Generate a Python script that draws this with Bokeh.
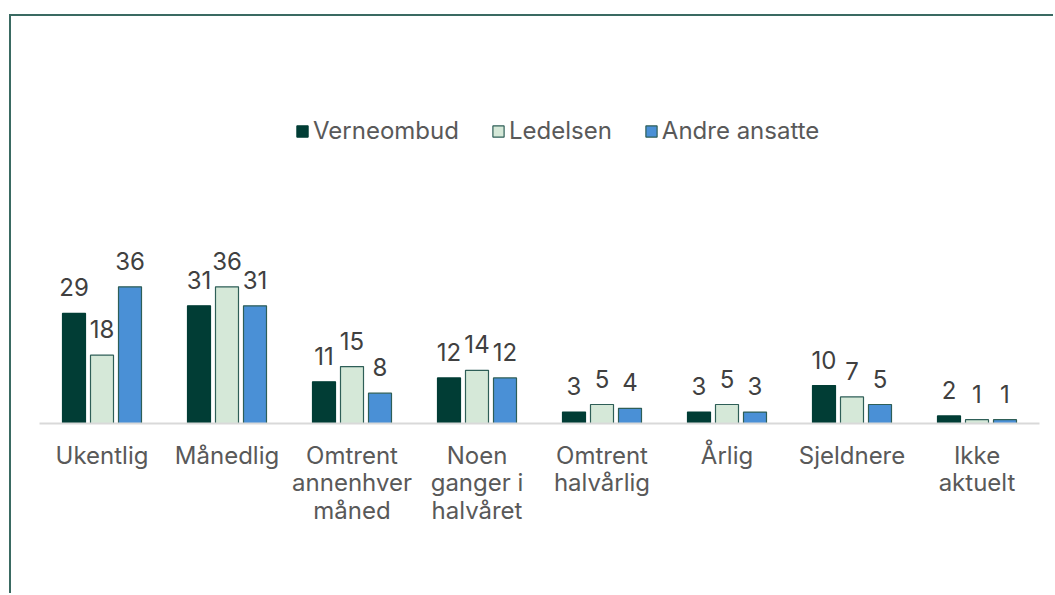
from bokeh.plotting import figure
from bokeh.models import FactorRange, Range1d, ColumnDataSource, Legend, LegendItem
from bokeh.transform import dodge
from bokeh.core.properties import value
from bokeh.embed import file_html
from bokeh.resources import INLINE

categories = ["Ukentlig", "Månedlig", "Omtrent\nannenhver\nmåned", "Noen\nganger i\nhalvåret",
              "Omtrent\nhalvårlig", "Årlig", "Sjeldnere", "Ikke\naktuelt"]
series_names = ["Verneombud", "Ledelsen", "Andre ansatte"]
verneombud = [29, 31, 11, 12, 3, 3, 10, 2]
ledelsen = [18, 36, 15, 14, 5, 5, 7, 1]
andre_ansatte = [36, 31, 8, 12, 4, 3, 5, 1]

fills = ["#013d35", "#d5e8d8", "#4a90d6"]
outlines = ["#013d35", "#2e5e57", "#2e5e57"]
offsets = [-0.224, 0.0, 0.224]
FONT = "Inter"
FS = "24px"

src = ColumnDataSource(dict(cat=categories, v0=verneombud, v1=ledelsen, v2=andre_ansatte,
                            t0=[str(v) for v in verneombud],
                            t1=[str(v) for v in ledelsen],
                            t2=[str(v) for v in andre_ansatte]))

p = figure(width=1044, height=579, output_backend="svg", toolbar_location=None,
           x_range=FactorRange(*categories, range_padding=0),
           y_range=Range1d(0, 107.2),
           min_border_left=28, min_border_right=16, min_border_top=0, min_border_bottom=172)
p.outline_line_color = None
p.background_fill_color = "white"
p.border_fill_color = "white"
p.grid.visible = False
p.yaxis.visible = False

renderers = []
for i, key in enumerate(["v0", "v1", "v2"]):
    r = p.vbar(x=dodge("cat", offsets[i], range=p.x_range), top=key, width=0.184, bottom=0,
               source=src, fill_color=fills[i], line_color=outlines[i], line_width=1.2)
    renderers.append(r)
    p.text(x=dodge("cat", offsets[i], range=p.x_range), y=key, text="t%d" % i, source=src,
           text_align="center", text_baseline="bottom", y_offset=-17,
           text_font=value(FONT), text_font_size=FS, text_color="#404040")

xa = p.xaxis[0]
xa.axis_line_color = "#d9d9d9"
xa.axis_line_width = 2
xa.major_tick_line_color = None
xa.minor_tick_line_color = None
xa.major_label_text_font = FONT
xa.major_label_text_font_size = FS
xa.major_label_text_color = "#595959"
xa.major_label_text_line_height = 0.96
xa.major_label_standoff = 11

legend = Legend(items=[LegendItem(label=series_names[i], renderers=[renderers[i]]) for i in range(3)],
                orientation="horizontal", location=(256, 278))
legend.label_text_font = FONT
legend.label_text_font_size = FS
legend.label_text_color = "#595959"
legend.glyph_width = 14
legend.glyph_height = 14
legend.label_standoff = 4
legend.spacing = 32
legend.padding = 0
legend.margin = 0
legend.border_line_color = None
legend.background_fill_alpha = 0
p.add_layout(legend)

p.styles = {"border-left": "2px solid #3a6a62", "border-top": "2px solid #3a6a62",
            "margin-left": "9px", "margin-top": "14px"}

open("out.html", "w").write(file_html(p, INLINE))
